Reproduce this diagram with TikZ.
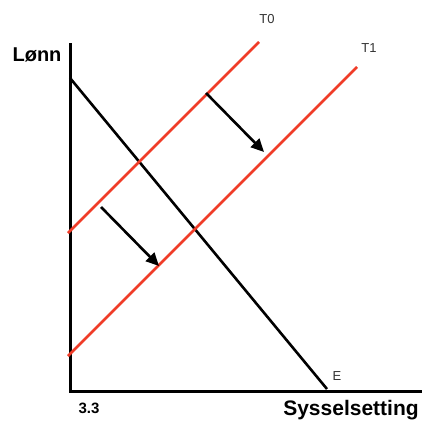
\documentclass[tikz,border=0pt]{standalone}
\usepackage{fontspec}
\setmainfont{Liberation Sans}
\usetikzlibrary{arrows.meta,positioning}

\begin{document}
\begin{tikzpicture}[x=1pt, y=-1pt,
    axis/.style={line width=3pt, line cap=rect},
    demand/.style={line width=2.6pt},
    supply/.style={line width=2.6pt, draw={rgb,255:red,240;green,60;blue,40}},
    shiftarrow/.style={line width=2.6pt, -{Triangle[length=13pt, width=12pt]}},
    lbl/.style={font=\fontsize{13}{15}\selectfont, text=black!80},
    axlbl/.style={font=\bfseries\fontsize{20}{24}\selectfont}]
    \useasboundingbox (0,0) rectangle (427,423);
    % axes
    \coordinate (o) at (70,391);
    \coordinate (ytop) at (70,44);
    \coordinate (xend) at (420,391);
    \draw[axis] (ytop) -- (o) -- (xend);
    \node[axlbl] (lonn) at (37,55) {Lønn};
    \node[axlbl, font=\bfseries\fontsize{21}{24}\selectfont] (syss) at (351,410) {Sysselsetting};
    \node[font=\bfseries\fontsize{15}{17}\selectfont] (tick) at (89,408) {3.3};

    % labour demand
    \coordinate (e0) at (70,78);
    \coordinate (e1) at (327,389);
    \draw[demand] (e0) -- (e1);
    \node[lbl] (elbl) at (337,376) {E};

    % supply curves
    \coordinate (t0a) at (68,233);
    \coordinate (t0b) at (259,42);
    \coordinate (t1a) at (68,356);
    \coordinate (t1b) at (357,67);
    \draw[supply] (t0a) -- (t0b);
    \draw[supply] (t1a) -- (t1b);
    \node[lbl] (t0lbl) at (267,19) {T0};
    \node[lbl] (t1lbl) at (369,48) {T1};

    % shifts
    \coordinate (s1a) at (206,93);
    \coordinate (s1b) at (264,152);
    \coordinate (s2a) at (101,207);
    \coordinate (s2b) at (159,266);
    \draw[shiftarrow] (s1a) -- (s1b);
    \draw[shiftarrow] (s2a) -- (s2b);
\end{tikzpicture}
\end{document}
